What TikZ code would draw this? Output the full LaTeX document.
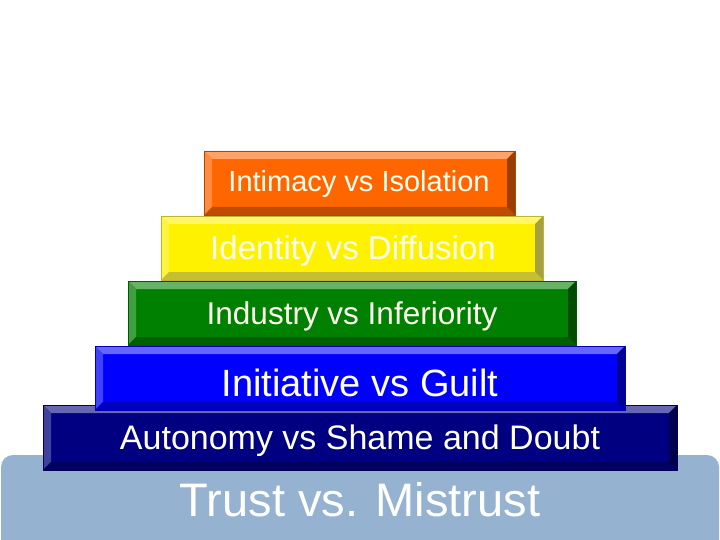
\documentclass[tikz,border=0pt]{standalone}
\usepackage{fontspec}
\setmainfont{Liberation Sans}
\definecolor{txt}{HTML}{FFFFF0}
\definecolor{base}{HTML}{95B3D0}
\newcommand{\bevbox}[9]{%
 \fill[#6] (#2,#3) rectangle (#4,#5);
 \fill[#6!60!white] (#2,#3) -- (#4,#3) -- (#4-8,#3+8) -- (#2+8,#3+8) -- cycle;
 \fill[#6!75!white] (#2,#3) -- (#2+8,#3+8) -- (#2+8,#5-8) -- (#2,#5) -- cycle;
 \fill[#6!75!black] (#2,#5) -- (#2+8,#5-8) -- (#4-8,#5-8) -- (#4,#5) -- cycle;
 \fill[#6!60!black] (#4,#3) -- (#4,#5) -- (#4-8,#5-8) -- (#4-8,#3+8) -- cycle;
 \draw[#6!70!black,line width=0.6pt] (#2,#3) rectangle (#4,#5);
 \node[text=txt,font=\fontsize{#8}{#8}\selectfont,inner sep=0pt] (#1) at (#9) {#7};
}
\begin{document}
\begin{tikzpicture}[x=1pt,y=-1pt]
\useasboundingbox (0,0) rectangle (720,540);
\fill[base,rounded corners=12pt] (1,455) rectangle (719,580);
\node[text=white,font=\fontsize{47}{47}\selectfont,inner sep=0pt] (trust) at (360,500) {Trust vs. Mistrust};
\bevbox{auto}{43}{405}{677}{470}{blue!50!black}{Autonomy vs Shame and Doubt}{34}{360,441}
\bevbox{init}{95}{346}{625}{410}{blue}{Initiative vs Guilt}{38}{360,383}
\bevbox{indu}{128}{281}{576}{345}{green!50!black}{Industry vs Inferiority}{31.5}{352,316}
\bevbox{iden}{161}{216}{543}{280}{yellow}{Identity vs Diffusion}{33}{353,251}
\definecolor{org}{HTML}{FF6600}
\bevbox{inti}{204}{151}{515}{215}{org}{Intimacy vs Isolation}{29}{359,184}
\end{tikzpicture}
\end{document}
